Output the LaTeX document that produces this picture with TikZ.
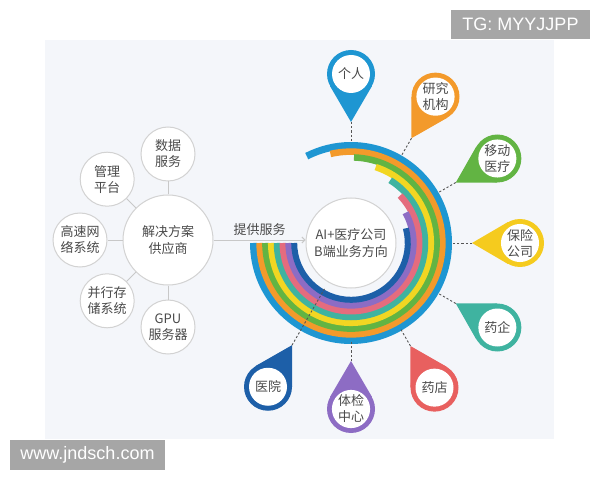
\documentclass[tikz,border=0pt]{standalone}
\usepackage{fontspec}
\setmainfont{Noto Sans CJK SC}
\newfontfamily\wmfont{Liberation Sans}
\usepackage{tikz}
\usetikzlibrary{arrows.meta, calc, positioning}

\definecolor{panel}{HTML}{F4F6FA}
\definecolor{ringgray}{HTML}{D2D2D2}
\definecolor{linegray}{HTML}{C8C8C8}
\definecolor{dashgray}{HTML}{555555}
\definecolor{txt}{HTML}{4A4A4A}
\definecolor{wmgray}{HTML}{A6A6A6}
\definecolor{rbblue}{HTML}{1E96D2}
\definecolor{rborange}{HTML}{F39A2B}
\definecolor{rbgreen}{HTML}{62B443}
\definecolor{rbyellow}{HTML}{F2D622}
\definecolor{rbteal}{HTML}{3FB3A0}
\definecolor{rbpink}{HTML}{E46C7E}
\definecolor{rbpurple}{HTML}{8D6CC4}
\definecolor{rbdark}{HTML}{1D5FA8}
\definecolor{pyellow}{HTML}{F5CB1E}
\definecolor{pcoral}{HTML}{E8605F}

\begin{document}
\begin{tikzpicture}[x=1pt, y=1pt, >={Straight Barb[length=3pt]},
	sat/.style={on grid, circle, draw=ringgray, fill=white, line width=1pt, minimum size=54pt, inner sep=0pt, align=center, text=txt, font=\fontsize{13}{16}\selectfont},
	hub/.style={sat, minimum size=90pt, font=\fontsize{13}{17}\selectfont},
	link/.style={draw=linegray, line width=0.9pt},
	band/.style={line width=6.5pt},
	pinring/.style={circle, minimum size=48pt, inner sep=0pt},
	pinlabel/.style={circle, fill=white, minimum size=38pt, inner sep=0pt, align=center, text=txt, font=\fontsize{13}{16}\selectfont},
	conn/.style={draw=dashgray, line width=0.9pt, dash pattern=on 2.2pt off 2pt},
	wm/.style={fill=wmgray, text=white, inner sep=0pt, font=\wmfont\fontsize{18}{20}\selectfont}]

		\useasboundingbox (0,0) rectangle (600,480);

		% Fondo
		\fill[white] (0,0) rectangle (600,480);
		\fill[panel] (45,41) rectangle (554,440);

		\node[wm, minimum width=139pt, minimum height=29pt] (tg) at (520.5,455.5) {TG: MYYJJPP};
		\node[wm, minimum width=155pt, minimum height=30pt] (site) at (87.5,25) {www.jndsch.com};

		% Proveedor
		\node[hub] (hub) at (168,240) {解决方案\\供应商};

		\node[sat, above=86pt of hub] (shuju) {数据\\服务};
		\node[sat, above left=60.8pt and 60.8pt of hub] (guanli) {管理\\平台};
		\node[sat, left=88pt of hub] (wangluo) {高速网\\络系统};
		\node[sat, below left=60.8pt and 60.8pt of hub] (cunchu) {并行存\\储系统};
		\node[sat, below=87pt of hub] (gpu) {GPU\\服务器};

		\draw[link] (hub) -- (shuju);
		\draw[link] (hub) -- (guanli);
		\draw[link] (hub) -- (wangluo);
		\draw[link] (hub) -- (cunchu);
		\draw[link] (hub) -- (gpu);

		% Arcos
		\coordinate (C) at (351,237);

		\draw[band, line width=7pt, rbblue] ($(C)+(180:97.5)$) arc[start angle=180, end angle=477, radius=97.5];
		\draw[band, rborange] ($(C)+(180:91.4)$) arc[start angle=180, end angle=463, radius=91.4];
		\draw[band, rbgreen] ($(C)+(180:85.6)$) arc[start angle=180, end angle=448, radius=85.6];
		\draw[band, rbyellow] ($(C)+(180:79.8)$) arc[start angle=180, end angle=432, radius=79.8];
		\draw[band, rbteal] ($(C)+(180:74)$) arc[start angle=180, end angle=418, radius=74];
		\draw[band, rbpink] ($(C)+(180:68.2)$) arc[start angle=180, end angle=404, radius=68.2];
		\draw[band, rbpurple] ($(C)+(180:62.4)$) arc[start angle=180, end angle=389, radius=62.4];
		\draw[band, line width=6pt, rbdark] ($(C)+(180:56.8)$) arc[start angle=180, end angle=375, radius=56.8];

		\node[hub] (ai) at (C) {AI+医疗公司\\B端业务方向};

		\draw[link, ->] (hub) -- (hub -| ai.west) node[midway, above=1pt, text=txt, font=\fontsize{13}{16}\selectfont] (tigong) {提供服务};

		% Clientes
		\node[pinring, fill=rbblue] (geren) at ($(C)+(90:169)$) {};
		\coordinate (geren-tip) at ($(geren)!48pt!(C)$);
		\fill[rbblue] (geren.210) -- (geren-tip) -- (geren.330) -- cycle;
		\node[pinlabel] (geren-txt) at (geren) {个人};

		\node[pinring, fill=rborange] (yanjiu) at ($(C)+(60:169)$) {};
		\coordinate (yanjiu-tip) at ($(yanjiu)!48pt!(C)$);
		\fill[rborange] (yanjiu.180) -- (yanjiu-tip) -- (yanjiu.300) -- cycle;
		\node[pinlabel] (yanjiu-txt) at (yanjiu) {研究\\机构};

		\node[pinring, fill=rbgreen] (yidong) at ($(C)+(30:169)$) {};
		\coordinate (yidong-tip) at ($(yidong)!48pt!(C)$);
		\fill[rbgreen] (yidong.150) -- (yidong-tip) -- (yidong.270) -- cycle;
		\node[pinlabel] (yidong-txt) at (yidong) {移动\\医疗};

		\node[pinring, fill=pyellow] (baoxian) at ($(C)+(0:169)$) {};
		\coordinate (baoxian-tip) at ($(baoxian)!48pt!(C)$);
		\fill[pyellow] (baoxian.120) -- (baoxian-tip) -- (baoxian.240) -- cycle;
		\node[pinlabel] (baoxian-txt) at (baoxian) {保险\\公司};

		\node[pinring, fill=rbteal] (yaoqi) at ($(C)+(-30:169)$) {};
		\coordinate (yaoqi-tip) at ($(yaoqi)!48pt!(C)$);
		\fill[rbteal] (yaoqi.90) -- (yaoqi-tip) -- (yaoqi.210) -- cycle;
		\node[pinlabel] (yaoqi-txt) at (yaoqi) {药企};

		\node[pinring, fill=pcoral] (yaodian) at ($(C)+(-60:167)$) {};
		\coordinate (yaodian-tip) at ($(yaodian)!48pt!(C)$);
		\fill[pcoral] (yaodian.60) -- (yaodian-tip) -- (yaodian.180) -- cycle;
		\node[pinlabel] (yaodian-txt) at (yaodian) {药店};

		\node[pinring, fill=rbpurple] (tijian) at ($(C)+(-90:166)$) {};
		\coordinate (tijian-tip) at ($(tijian)!48pt!(C)$);
		\fill[rbpurple] (tijian.30) -- (tijian-tip) -- (tijian.150) -- cycle;
		\node[pinlabel] (tijian-txt) at (tijian) {体检\\中心};

		\node[pinring, fill=rbdark] (yiyuan) at ($(C)+(-120:166)$) {};
		\coordinate (yiyuan-tip) at ($(yiyuan)!48pt!(C)$);
		\fill[rbdark] (yiyuan.0) -- (yiyuan-tip) -- (yiyuan.120) -- cycle;
		\node[pinlabel] (yiyuan-txt) at (yiyuan) {医院};

		% Conectores
		\draw[conn] (geren-tip) -- ($(geren-tip)!20pt!(C)$);
		\draw[conn] (yanjiu-tip) -- ($(yanjiu-tip)!20pt!(C)$);
		\draw[conn] (yidong-tip) -- ($(yidong-tip)!20pt!(C)$);
		\draw[conn] (baoxian-tip) -- ($(baoxian-tip)!20pt!(C)$);
		\draw[conn] (yaoqi-tip) -- ($(yaoqi-tip)!20pt!(C)$);
		\draw[conn] (yaodian-tip) -- ($(yaodian-tip)!20pt!(C)$);
		\draw[conn] (tijian-tip) -- ($(tijian-tip)!20pt!(C)$);
		\draw[conn] (yiyuan-tip) -- ($(yiyuan-tip)!65pt!(C)$);
	\end{tikzpicture}
\end{document}
